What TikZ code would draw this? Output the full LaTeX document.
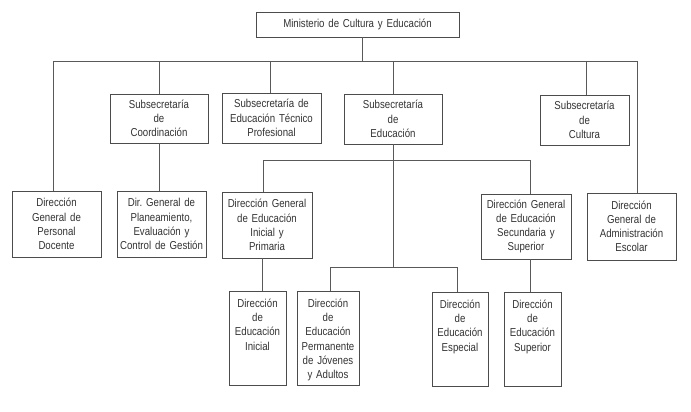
\documentclass[tikz,border=0pt]{standalone}
\usepackage{fontspec}
\setmainfont{Liberation Sans}[FakeStretch=0.84,WordSpace=0.75]
\frenchspacing
\begin{document}
\begin{tikzpicture}[x=1pt,y=-1pt,
  line/.style={draw=black!65, line width=0.8pt},
  box/.style={draw=black!70, line width=0.8pt, fill=white, align=center,
    inner sep=0pt, text=black!80, font=\fontsize{11.5}{14.2}\selectfont},
  cbox/.style 2 args={box, text width=#1, minimum height=#2},
  tbox/.style={box, anchor=north, text width=#1, text height=16pt, text depth=78pt}
]
\useasboundingbox[fill=white] (0,0) rectangle (691,412);

% level 0
\node[cbox={203pt}{25pt}] (top) at (357.5,24.5) {Ministerio de Cultura y Educación};

% level 1
\node[cbox={98pt}{49pt}] (coord) at (159,118.5) {Subsecretaría\\de\\Coordinación};
\node[cbox={99pt}{50pt}] (tec) at (271.5,118) {Subsecretaría de\\Educación Técnico\\Profesional};
\node[cbox={98pt}{50pt}] (edu) at (393,119) {Subsecretaría\\de\\Educación};
\node[cbox={89pt}{50pt}] (cul) at (584.5,120) {Subsecretaría\\de\\Cultura};

% level 2
\node[cbox={89pt}{66pt}] (doc) at (56.5,224) {Dirección\\General de\\Personal\\Docente};
\node[cbox={89pt}{66pt}] (plan) at (161.5,224) {Dir. General de\\Planeamiento,\\Evaluación y\\Control de Gestión};
\node[cbox={90pt}{66pt}] (ini) at (267,225) {Dirección General\\de Educación\\Inicial y\\Primaria};
\node[cbox={90pt}{65pt}] (sec) at (526,226.5) {Dirección General\\de Educación\\Secundaria y\\Superior};
\node[cbox={89pt}{67pt}] (adm) at (631.5,226.5) {Dirección\\General de\\Administración\\Escolar};

% level 3
\node[tbox={57pt}] (inic) at (257.5,291) {Dirección\\de\\Educación\\Inicial};
\node[tbox={62pt}] (perm) at (328,291) {Dirección\\de\\Educación\\Permanente\\de Jóvenes\\y Adultos};
\node[tbox={56pt}] (esp) at (460,292) {Dirección\\de\\Educación\\Especial};
\node[tbox={57pt}] (sup) at (532.5,292) {Dirección\\de\\Educación\\Superior};

% connectors
\coordinate (s0) at (362,61);
\coordinate (barL) at (53,61);
\coordinate (barR) at (637,61);
\coordinate (c1) at (159,61);
\coordinate (c2) at (270,61);
\coordinate (c3) at (393,61);
\coordinate (c4) at (586,61);
\coordinate (h1) at (263,160);
\coordinate (h2) at (530,160);
\coordinate (e2) at (393,267);
\coordinate (p1) at (330,267);
\coordinate (p2) at (457,267);

\draw[line] (s0 |- top.south) -- (s0);
\draw[line] (barL |- doc.north) -- (barL) -- (barR) -- (barR |- adm.north);
\draw[line] (c1) -- (c1 |- coord.north);
\draw[line] (c2) -- (c2 |- tec.north);
\draw[line] (c3) -- (c3 |- edu.north);
\draw[line] (c4) -- (c4 |- cul.north);
\draw[line] (coord.south) -- (coord.south |- plan.north);
\draw[line] (edu.south) -- (e2);
\draw[line] (h1 |- ini.north) -- (h1) -- (h2) -- (h2 |- sec.north);
\draw[line] ([xshift=-5pt]ini.south) -- ([xshift=-5pt]ini.south |- inic.north);
\draw[line] (p1 |- perm.north) -- (p1) -- (p2) -- (p2 |- esp.north);
\draw[line] ([xshift=4pt]sec.south) -- ([xshift=4pt]sec.south |- sup.north);
\end{tikzpicture}
\end{document}
